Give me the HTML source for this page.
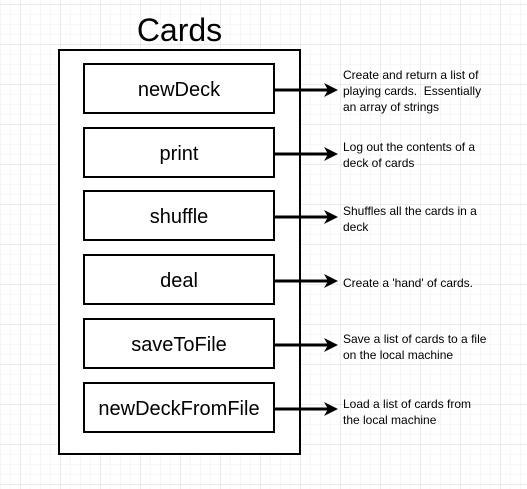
<!DOCTYPE html>
<html><head><style>
html,body{margin:0;padding:0}
body{width:527px;height:489px;overflow:hidden;position:relative;background-color:#fff;
background-image:linear-gradient(#ececec 1px,transparent 1px),linear-gradient(90deg,#ececec 1px,transparent 1px),linear-gradient(#f7f7f7 1px,transparent 1px),linear-gradient(90deg,#f7f7f7 1px,transparent 1px);
background-size:40px 40px,40px 40px,10px 10px,10px 10px;background-position:0 4px,20px 0,0 4px,20px 0;
font-family:"Liberation Sans",Arial,sans-serif}
.t{position:absolute;left:58px;width:243px;top:12px;text-align:center;font-size:32px}
.outer{position:absolute;left:58px;top:49px;width:239px;height:402px;border:2px solid #000;background:#fff}
.b{position:absolute;left:83px;width:188px;height:47px;border:2px solid #000;background:#fff;text-align:center;line-height:51px;font-size:20px}
.d{position:absolute;left:343px;font-size:12px;line-height:16px;color:#000}
svg{position:absolute;left:0;top:0}
</style></head><body>
<div class="t">Cards</div>
<div class="outer"></div>
<div class="b" style="top:63px">newDeck</div>
<div class="b" style="top:127px">print</div>
<div class="b" style="top:190px">shuffle</div>
<div class="b" style="top:254px">deal</div>
<div class="b" style="top:318px">saveToFile</div>
<div class="b" style="top:382px">newDeckFromFile</div>
<svg width="527" height="489">
<g stroke="#000" stroke-width="3">
<line x1="274" y1="90" x2="330" y2="90"/><line x1="274" y1="154" x2="330" y2="154"/>
<line x1="274" y1="217" x2="330" y2="217"/><line x1="274" y1="281" x2="330" y2="281"/>
<line x1="274" y1="345" x2="330" y2="345"/><line x1="274" y1="409" x2="330" y2="409"/>
</g>
<g fill="#000">
<path d="M338 90 L324 83 L328 90 L324 97Z"/><path d="M338 154 L324 147 L328 154 L324 161Z"/>
<path d="M338 217 L324 210 L328 217 L324 224Z"/><path d="M338 281 L324 274 L328 281 L324 288Z"/>
<path d="M338 345 L324 338 L328 345 L324 352Z"/><path d="M338 409 L324 402 L328 409 L324 416Z"/>
</g></svg>
<div class="d" style="top:67px">Create and return a list of<br>playing cards.&nbsp; Essentially<br>an array of strings</div>
<div class="d" style="top:139px">Log out the contents of a<br>deck of cards</div>
<div class="d" style="top:203px">Shuffles all the cards in a<br>deck</div>
<div class="d" style="top:275px">Create a 'hand' of cards.</div>
<div class="d" style="top:331px">Save a list of cards to a file<br>on the local machine</div>
<div class="d" style="top:396px">Load a list of cards from<br>the local machine</div>
</body></html>
